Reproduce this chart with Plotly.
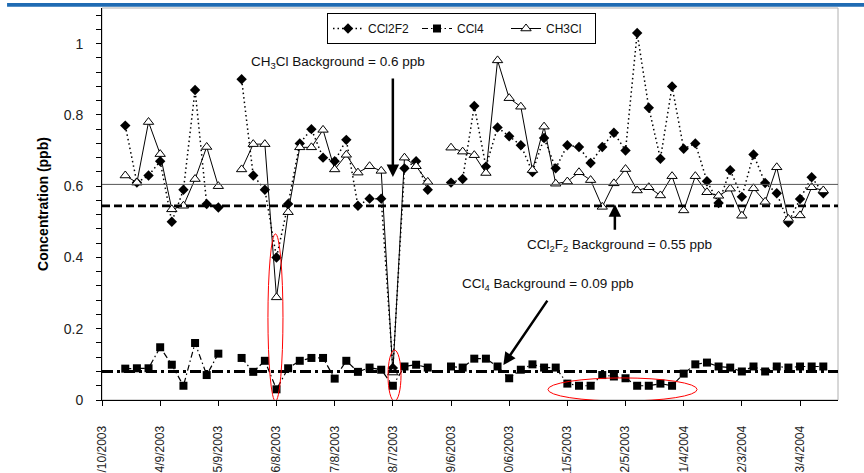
import plotly.graph_objects as go

# ---------------- data ----------------
sample_dates = [
    "2003-03-22", "2003-03-28", "2003-04-03", "2003-04-09", "2003-04-15", "2003-04-21", "2003-04-27",
    "2003-05-03", "2003-05-09", "2003-05-15", "2003-05-21", "2003-05-27", "2003-06-02", "2003-06-08",
    "2003-06-14", "2003-06-20", "2003-06-26", "2003-07-02", "2003-07-08", "2003-07-14", "2003-07-20",
    "2003-07-26", "2003-08-01", "2003-08-07", "2003-08-13", "2003-08-19", "2003-08-25", "2003-08-31",
    "2003-09-06", "2003-09-12", "2003-09-18", "2003-09-24", "2003-09-30", "2003-10-06", "2003-10-12",
    "2003-10-18", "2003-10-24", "2003-10-30", "2003-11-05", "2003-11-11", "2003-11-17", "2003-11-23",
    "2003-11-29", "2003-12-05", "2003-12-11", "2003-12-17", "2003-12-23", "2003-12-29", "2004-01-04",
    "2004-01-10", "2004-01-16", "2004-01-22", "2004-01-28", "2004-02-03", "2004-02-09", "2004-02-15",
    "2004-02-21", "2004-02-27", "2004-03-04", "2004-03-10", "2004-03-16",
]

ccl2f2 = [
    0.77, 0.61, 0.63, 0.67, 0.50, 0.59, 0.87,
    0.55, 0.54, None, 0.90, 0.63, 0.59, 0.40,
    0.55, 0.72, 0.76, 0.68, 0.67, 0.73, 0.545,
    0.565, 0.565, 0.09, 0.65, 0.67, 0.59, None,
    0.61, 0.62, 0.825, 0.655, 0.765, 0.74, 0.715,
    0.64, 0.735, 0.65, 0.715, 0.71, 0.665, 0.71,
    0.75, 0.70, 1.03, 0.82, 0.677, 0.88, 0.705,
    0.72, 0.614, 0.553, 0.645, 0.57, 0.689, 0.609,
    0.58, 0.498, 0.564, 0.625, 0.58,
]

ccl4 = [
    0.088, 0.089, 0.089, 0.148, 0.099, 0.040, 0.160,
    0.070, 0.130, None, 0.118, 0.079, 0.110, 0.030,
    0.089, 0.110, 0.118, 0.118, 0.060, 0.110, 0.079,
    0.091, 0.085, 0.040, 0.094, 0.099, 0.091, None,
    0.094, 0.091, 0.116, 0.116, 0.094, 0.061, 0.085,
    0.100, 0.091, 0.091, 0.046, 0.040, 0.040, 0.070,
    0.066, 0.061, 0.040, 0.040, 0.046, 0.040, 0.074,
    0.100, 0.105, 0.094, 0.091, 0.080, 0.094, 0.080,
    0.094, 0.091, 0.094, 0.094, 0.094,
]

ch3cl = [
    0.63, 0.61, 0.78, 0.69, 0.535, 0.545, 0.62,
    0.71, 0.60, None, 0.647, 0.718, 0.718, 0.288,
    0.527, 0.709, 0.709, 0.758, 0.647, 0.688, 0.638,
    0.656, 0.643, 0.077, 0.68, 0.656, 0.612, None,
    0.708, 0.697, 0.687, 0.637, 0.953, 0.847, 0.823,
    0.645, 0.767, 0.607, 0.613, 0.639, 0.617, 0.542,
    0.608, 0.648, 0.588, 0.597, 0.574, 0.628, 0.532,
    0.628, 0.583, 0.573, 0.593, 0.517, 0.594, 0.556,
    0.653, 0.508, 0.518, 0.597, 0.588,
]

background_ch3cl = 0.605
background_ccl2f2 = 0.545
background_ccl4 = 0.08

tick_dates = [
    "2003-03-10", "2003-04-09", "2003-05-09", "2003-06-08", "2003-07-08", "2003-08-07", "2003-09-06",
    "2003-10-06", "2003-11-05", "2003-12-05", "2004-01-04", "2004-02-03", "2004-03-04",
]
tick_labels = [
    "3/10/2003", "4/9/2003", "5/9/2003", "6/8/2003", "7/8/2003", "8/7/2003", "9/6/2003",
    "10/6/2003", "11/5/2003", "12/5/2003", "1/4/2004", "2/3/2004", "3/4/2004",
]

FONT = "Arial, Liberation Sans, sans-serif"

fig = go.Figure()

fig.add_trace(go.Scatter(
    x=sample_dates, y=ccl2f2, name="CCl2F2", mode="lines+markers",
    line=dict(color="black", width=1.5, dash="1.5px,3px"),
    marker=dict(symbol="diamond", size=8, color="black"),
    connectgaps=False,
))
fig.add_trace(go.Scatter(
    x=sample_dates, y=ccl4, name="CCl4", mode="lines+markers",
    line=dict(color="black", width=1.2, dash="6px,3px,1.5px,3px"),
    marker=dict(symbol="square", size=8, color="black"),
    connectgaps=False,
))
fig.add_trace(go.Scatter(
    x=sample_dates, y=ch3cl, name="CH3Cl", mode="lines+markers",
    line=dict(color="black", width=1),
    marker=dict(symbol="triangle-up", size=9, color="white",
                line=dict(color="black", width=1)),
    connectgaps=False,
))

shapes = [
    # plot frame (light grey top / right)
    dict(type="rect", xref="paper", yref="paper", x0=0, x1=1, y0=0, y1=1,
         line=dict(color="#b0b0b0", width=1), layer="below"),
    # blue bar at top of the page
    dict(type="rect", xref="paper", yref="paper", x0=-0.129, x1=1.04,
         y0=(400 - 6.8) / 392, y1=(400 - 3.0) / 392,
         line=dict(width=0), fillcolor="#1f6bb3"),
    # background lines
    dict(type="line", xref="paper", yref="y", x0=0, x1=1,
         y0=background_ch3cl, y1=background_ch3cl,
         line=dict(color="#555555", width=1)),
    dict(type="line", xref="paper", yref="y", x0=0, x1=1,
         y0=background_ccl2f2, y1=background_ccl2f2,
         line=dict(color="black", width=2.8, dash="8px,4px")),
    dict(type="line", xref="paper", yref="y", x0=0, x1=1,
         y0=background_ccl4, y1=background_ccl4,
         line=dict(color="black", width=2.8, dash="11px,4px,3px,4px")),
    # red ellipses
    dict(type="circle", xref="x", yref="y", x0="2003-06-03 14:00", x1="2003-06-11 08:00",
         y0=-0.003, y1=0.466, line=dict(color="red", width=1)),
    dict(type="circle", xref="x", yref="y", x0="2003-08-04 12:00", x1="2003-08-11 05:00",
         y0=-0.003, y1=0.14, line=dict(color="red", width=1)),
    dict(type="circle", xref="x", yref="y", x0="2003-10-26", x1="2004-01-10 22:00",
         y0=-0.003, y1=0.062, line=dict(color="red", width=1)),
]

ann_font = dict(size=13.5, color="#111111", family=FONT)
annotations = [
    dict(text="CH<sub>3</sub>Cl Background = 0.6 ppb", xref="paper", yref="paper",
         x=(338 - 102) / 736, y=(400 - 63) / 392, xanchor="center", yanchor="middle",
         showarrow=False, font=ann_font),
    dict(text="CCl<sub>2</sub>F<sub>2</sub> Background = 0.55 ppb", xref="paper", yref="paper",
         x=(619 - 102) / 736, y=(400 - 245) / 392, xanchor="center", yanchor="middle",
         showarrow=False, font=ann_font),
    dict(text="CCl<sub>4</sub> Background = 0.09 ppb", xref="paper", yref="paper",
         x=(547 - 102) / 736, y=(400 - 284) / 392, xanchor="center", yanchor="middle",
         showarrow=False, font=ann_font),
    # arrows
    dict(text="", x="2003-08-07", y=0.626, xref="x", yref="y", ax=0, ay=-100,
         showarrow=True, arrowhead=2, arrowsize=1, arrowwidth=2.5, arrowcolor="black"),
    dict(text="", x="2003-11-29 12:00", y=0.549, xref="x", yref="y", ax=0, ay=27,
         showarrow=True, arrowhead=2, arrowsize=1, arrowwidth=2.5, arrowcolor="black"),
    dict(text="", x="2003-10-03", y=0.098, xref="x", yref="y", ax=45, ay=-66,
         showarrow=True, arrowhead=2, arrowsize=1, arrowwidth=2.5, arrowcolor="black"),
]

fig.update_layout(
    width=864, height=473,
    margin=dict(l=102, r=26, t=8, b=73, autoexpand=False),
    paper_bgcolor="white", plot_bgcolor="white",
    font=dict(family=FONT, color="#222222"),
    shapes=shapes, annotations=annotations,
    showlegend=True,
    legend=dict(orientation="h", x=(327 - 102) / 736, y=(400 - 13) / 392,
                xanchor="left", yanchor="top",
                bordercolor="black", borderwidth=1, bgcolor="white",
                font=dict(size=12, family=FONT, color="#111111"),
                itemwidth=30, tracegroupgap=0, entrywidth=44),
)

fig.update_xaxes(
    type="date", range=["2003-03-10", "2004-03-23 14:00"],
    tickmode="array", tickvals=tick_dates, ticktext=tick_labels,
    tickangle=-90, tickfont=dict(size=12, color="#222222"),
    ticks="outside", ticklen=5, tickcolor="black",
    showline=True, linecolor="black", linewidth=1,
    showgrid=False, zeroline=False, ticklabelstandoff=15,
)
fig.update_yaxes(
    range=[0, 1.1], tick0=0, dtick=0.2,
    tickfont=dict(size=14, color="#222222"),
    ticks="outside", ticklen=5, tickcolor="black",
    minor=dict(dtick=0.04, ticks="outside", ticklen=5, tickcolor="black"),
    showline=True, linecolor="black", linewidth=1,
    showgrid=False, zeroline=False, ticklabelstandoff=10,
    title=dict(text="<b>Concentration (ppb)</b>", font=dict(size=14, color="black"), standoff=11),
)

fig.write_html("out.html")
